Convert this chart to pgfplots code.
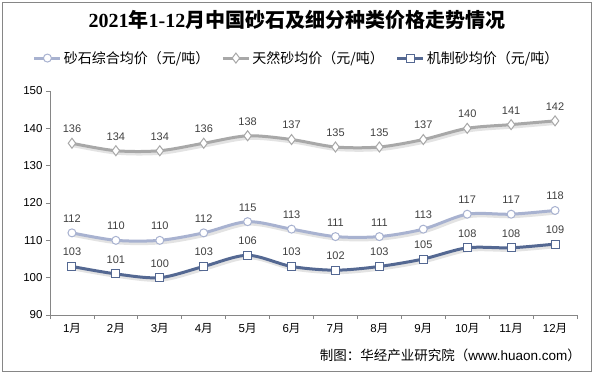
\documentclass[border=0pt]{standalone}
\usepackage{pgfplots}
\usepackage{pgfplotstable}
\pgfplotsset{compat=1.18}
\usepackage{fontspec}
\setmainfont{Liberation Sans}
\newfontfamily\cjk{Noto Sans CJK SC}
\newfontfamily\serif{Liberation Serif}
\definecolor{sA}{RGB}{168,178,208}
\definecolor{sB}{RGB}{168,168,168}
\definecolor{sC}{RGB}{84,104,146}
\definecolor{axgray}{RGB}{134,134,134}
\definecolor{lbl}{RGB}{64,64,64}
\newcommand\yue{{\cjk 月}}
\pgfplotstableread{
m s1 s2 s3
1 112 136 103
2 110 134 101
3 110 134 100
4 112 136 103
5 115 138 106
6 113 137 103
7 111 135 102
8 111 135 103
9 113 137 105
10 117 140 108
11 117 141 108
12 118 142 109
}\data
\begin{document}
\begin{tikzpicture}
\useasboundingbox (-50bp,-59bp) rectangle (544bp,315bp);
\fill[white] (-50bp,-59bp) rectangle (544bp,315bp);
\draw[axgray, line width=0.8bp] (-48bp,-56bp) rectangle (541bp,313bp);
\begin{axis}[
  scale only axis,
  width=527bp, height=224bp,
  xmin=0.5, xmax=12.5, ymin=90, ymax=150,
  xtick={1,...,12},
  xticklabels={1\yue,2\yue,3\yue,4\yue,5\yue,6\yue,7\yue,8\yue,9\yue,10\yue,11\yue,12\yue},
  minor xtick={0.5,1.5,...,12.5},
  ytick={90,100,...,150},
  /pgf/number format/assume math mode=true,
  axis x line*=bottom, axis y line*=left,
  axis line style={axgray, line width=0.8bp},
  tick align=outside,
  major x tick style={draw=none},
  minor x tick style={axgray, line width=0.8bp},
  major y tick style={axgray, line width=0.8bp},
  major tick length=4bp, minor tick length=4bp,
  tick label style={font=\fontsize{11.5bp}{13bp}\selectfont, text=black},
  xticklabel style={yshift=-1bp},
  legend columns=3,
  legend style={draw=none, fill=none, at={(0.468,1.147)}, anchor=center,
    font=\fontsize{14bp}{16bp}\selectfont\cjk,
    /tikz/every even column/.append style={column sep=10bp},
    inner sep=0pt},
  legend cell align=left,
  legend image code/.code={\draw[#1, mark repeat=2, mark phase=2] plot coordinates {(0bp,0bp) (13bp,0bp) (26bp,0bp)};},
  nodes near coords,
  every node near coord/.style={anchor=south, yshift=9bp, inner sep=1bp, font=\fontsize{11bp}{13bp}\selectfont, text=lbl},
  clip=false,
]
% shadows
\addplot[smooth, gray, opacity=0.22, line width=3bp, xshift=1.5bp, yshift=-2.5bp, no markers, forget plot, nodes near coords={}] table[x=m,y=s1]{\data};
\addplot[smooth, gray, opacity=0.22, line width=3bp, xshift=1.5bp, yshift=-2.5bp, no markers, forget plot, nodes near coords={}] table[x=m,y=s2]{\data};
\addplot[smooth, gray, opacity=0.22, line width=3bp, xshift=1.5bp, yshift=-2.5bp, no markers, forget plot, nodes near coords={}] table[x=m,y=s3]{\data};
% series
\addplot[smooth, sA, line width=3bp, mark=*, mark size=4bp, mark options={fill=white, draw=sA, line width=1bp}] table[x=m,y=s1]{\data};
\addlegendentry{砂石综合均价（元/吨）}
\addplot[smooth, sB, line width=3bp, mark=diamond*, mark size=5bp, mark options={fill=white, draw=sB, line width=1bp}] table[x=m,y=s2]{\data};
\addlegendentry{天然砂均价（元/吨）}
\addplot[smooth, sC, line width=3bp, mark=square*, mark size=4bp, mark options={fill=white, draw=sC, line width=1bp}] table[x=m,y=s3]{\data};
\addlegendentry{机制砂均价（元/吨）}
\end{axis}
\node[font=\fontsize{20bp}{22bp}\selectfont\bfseries] at (247bp,295bp)
  {{\serif\bfseries 2021}{\cjk\bfseries 年}{\serif\bfseries 1-12}{\cjk\bfseries 月中国砂石及细分种类价格走势情况}};
\node[anchor=east, font=\fontsize{13.5bp}{15bp}\selectfont, inner sep=0pt] at (531bp,-40bp)
  {{\cjk 制图：华经产业研究院（}www.huaon.com{\cjk ）}};
\end{tikzpicture}
\end{document}
